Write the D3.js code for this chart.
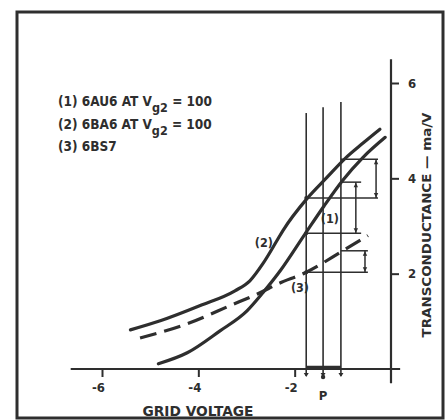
<!DOCTYPE html>
<html><head><meta charset="utf-8">
<script src="https://cdn.jsdelivr.net/npm/d3@7"></script>
<style>
html,body{margin:0;padding:0;background:#fff;}
svg{display:block;}
text{font-family:"DejaVu Sans Condensed","Liberation Sans Narrow","DejaVu Sans",sans-serif;font-weight:bold;fill:#2e2e2e;}
</style></head>
<body>
<script>
// ---- data (grid volts, mA/V) ----
const curve1X = [-4.83,-4.23,-3.55,-2.99,-2.66,-2.30,-1.78,-1.39,-1.00,-0.58,-0.12];
const curve1Y = [0.11,0.34,0.80,1.22,1.60,2.06,2.84,3.42,3.96,4.44,4.86];
const curve2X = [-5.41,-4.79,-3.96,-3.24,-2.93,-2.66,-2.37,-2.24,-1.74,-1.33,-0.95,-0.58,-0.23];
const curve2Y = [0.82,1.01,1.33,1.64,1.85,2.21,2.69,2.91,3.58,4.02,4.42,4.74,5.03];
const curve3X = [-5.21,-4.23,-3.34,-2.72,-2.34,-1.78,-1.00,-0.48];
const curve3Y = [0.65,0.95,1.33,1.60,1.79,2.02,2.48,2.80];
const xTicks = [-6,-4,-2];
const yTicks = [2,4,6];
const verticalX = [-1.76,-1.41,-1.04];
const verticalTop = [5.37,5.49,5.60];
const markLow = [2.85,3.59,2.03];    // curves (1),(2),(3) at left vertical
const markHigh = [3.92,4.40,2.48];   // at right vertical
const markArmEnd = [-0.62,-0.27,-0.48];
const markArrowX = [-0.73,-0.31,-0.54];
const curveLabels = ["(1)","(2)","(3)"];
const curveLabelX = [-1.27,-2.64,-1.89];
const curveLabelY = [3.17,2.66,1.72];
const legendLines = [["(1) 6AU6 AT V","g2"," = 100"],["(2) 6BA6 AT V","g2"," = 100"],["(3) 6BS7","",""]];

const W=447,H=420, ink="#2e2e2e";
const svg=d3.select("body").append("svg").attr("width",W).attr("height",H);
svg.append("rect").attr("width",W).attr("height",H).attr("fill","#fff");
// frame
svg.append("rect").attr("x",17).attr("y",12).attr("width",426).attr("height",406)
  .attr("fill","none").attr("stroke",ink).attr("stroke-width",3);

const x=d3.scaleLinear().domain([-6,0]).range([102,391]);
const y=d3.scaleLinear().domain([0,6]).range([369,83]);

// axes lines
svg.append("line").attr("x1",x(-6.65)).attr("x2",x(0.19)).attr("y1",y(0)).attr("y2",y(0))
  .attr("stroke",ink).attr("stroke-width",2.2);
svg.append("line").attr("x1",x(0)).attr("x2",x(0)).attr("y1",y(6.5)).attr("y2",y(-0.3))
  .attr("stroke",ink).attr("stroke-width",2.2);

const xa=svg.append("g").attr("transform",`translate(0,${y(0)})`)
  .call(d3.axisBottom(x).tickValues(xTicks).tickSize(8).tickPadding(6).tickFormat(d=>"-"+Math.abs(d)));
xa.select(".domain").remove();
xa.selectAll("line").attr("stroke",ink).attr("stroke-width",2);
xa.selectAll("text").attr("font-size",13).attr("fill",ink).attr("dx",-4);

const ya=svg.append("g").attr("transform",`translate(${x(0)},0)`)
  .call(d3.axisRight(y).tickValues(yTicks).tickSize(8).tickPadding(9).tickFormat(d3.format("d")));
ya.select(".domain").remove();
ya.selectAll("line").attr("stroke",ink).attr("stroke-width",2);
ya.selectAll("text").attr("font-size",13).attr("fill",ink);

// axis titles
svg.append("text").attr("x",198).attr("y",416).attr("text-anchor","middle")
  .attr("font-size",13.5).attr("textLength",111).attr("lengthAdjust","spacingAndGlyphs").text("GRID VOLTAGE");
svg.append("text").attr("transform","translate(431,225) rotate(-90)").attr("text-anchor","middle")
  .attr("font-size",12.5).attr("textLength",225).attr("lengthAdjust","spacingAndGlyphs")
  .text("TRANSCONDUCTANCE — ma/V");

// vertical construction lines
verticalX.forEach((v,i)=>{
  svg.append("line").attr("x1",x(v)).attr("x2",x(v)).attr("y1",y(0)).attr("y2",y(verticalTop[i]))
    .attr("stroke",ink).attr("stroke-width",1.6);
  svg.append("line").attr("x1",x(v)).attr("x2",x(v)).attr("y1",y(0)).attr("y2",y(0)+7)
    .attr("stroke",ink).attr("stroke-width",1.6);
  svg.append("path").attr("d",`M${x(v)-2.5},${y(0)+4}L${x(v)+2.5},${y(0)+4}L${x(v)},${y(0)+8}Z`).attr("fill",ink);
});
svg.append("circle").attr("cx",x(verticalX[1])).attr("cy",y(0)+8).attr("r",2.2).attr("fill",ink);
svg.append("line").attr("x1",x(verticalX[0])).attr("x2",x(verticalX[2])).attr("y1",y(0)-1.5).attr("y2",y(0)-1.5)
  .attr("stroke",ink).attr("stroke-width",3.5);
svg.append("text").attr("x",x(verticalX[1])).attr("y",400).attr("text-anchor","middle")
  .attr("font-size",13).text("P");

// slope marks
markLow.forEach((lo,i)=>{
  const hi=markHigh[i];
  svg.append("line").attr("x1",x(verticalX[0])).attr("x2",x(markArmEnd[i])).attr("y1",y(lo)).attr("y2",y(lo))
    .attr("stroke",ink).attr("stroke-width",1.5);
  svg.append("line").attr("x1",x(verticalX[2])).attr("x2",x(markArmEnd[i])).attr("y1",y(hi)).attr("y2",y(hi))
    .attr("stroke",ink).attr("stroke-width",1.5);
  const ax=x(markArrowX[i]);
  svg.append("line").attr("x1",ax).attr("x2",ax).attr("y1",y(lo)).attr("y2",y(hi))
    .attr("stroke",ink).attr("stroke-width",1.5);
  svg.append("path").attr("d",`M${ax-2.2},${y(hi)+5}L${ax+2.2},${y(hi)+5}L${ax},${y(hi)+0.5}Z`).attr("fill",ink);
  svg.append("path").attr("d",`M${ax-2.2},${y(lo)-5}L${ax+2.2},${y(lo)-5}L${ax},${y(lo)-0.5}Z`).attr("fill",ink);
  svg.append("circle").attr("cx",x(verticalX[0])).attr("cy",y(lo)).attr("r",2).attr("fill",ink);
});

// curves
const line=d3.line().x(d=>x(d[0])).y(d=>y(d[1])).curve(d3.curveMonotoneX);
const zip=(a,b)=>a.map((v,i)=>[v,b[i]]);
svg.append("path").attr("d",line(zip(curve1X,curve1Y))).attr("fill","none").attr("stroke",ink)
  .attr("stroke-width",3.2).attr("stroke-linecap","round");
svg.append("path").attr("d",line(zip(curve2X,curve2Y))).attr("fill","none").attr("stroke",ink)
  .attr("stroke-width",3.2).attr("stroke-linecap","round");
svg.append("path").attr("d",line(zip(curve3X,curve3Y))).attr("fill","none").attr("stroke",ink)
  .attr("stroke-width",3.2).attr("stroke-dasharray","17,8");

curveLabels.forEach((t,i)=>{
  svg.append("text").attr("x",x(curveLabelX[i])).attr("y",y(curveLabelY[i])+5).attr("text-anchor","middle")
    .attr("font-size",12.5).text(t);
});

// legend
legendLines.forEach((parts,i)=>{
  const t=svg.append("text").attr("x",58).attr("y",106+i*22.5).attr("font-size",13.5);
  t.append("tspan").text(parts[0]);
  if(parts[1]){
    t.append("tspan").attr("dy",6).attr("font-size",12.5).text(parts[1]);
    t.append("tspan").attr("dy",-6).text(parts[2]);
  }
});
</script>
</body></html>
